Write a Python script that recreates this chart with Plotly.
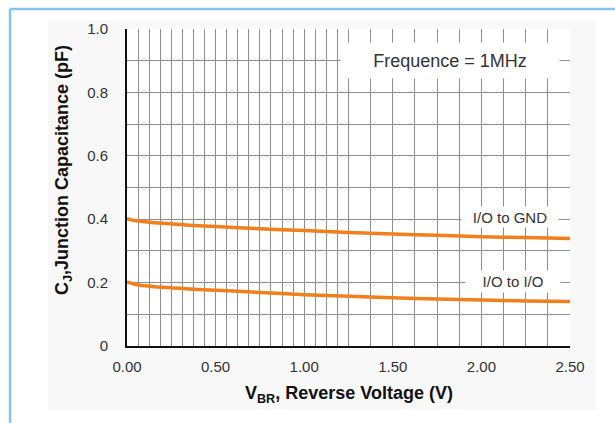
import plotly.graph_objects as go

# Reverse voltage (V) sample points
voltage = [0.0, 0.05, 0.1, 0.2, 0.35, 0.5, 0.75, 1.0, 1.25, 1.5, 1.75, 2.0, 2.25, 2.5]
# Junction capacitance (pF)
cap_io_gnd = [0.402, 0.395, 0.392, 0.387, 0.381, 0.377, 0.370, 0.364, 0.358, 0.353, 0.349, 0.345, 0.342, 0.339]
cap_io_io = [0.202, 0.194, 0.190, 0.185, 0.180, 0.176, 0.169, 0.162, 0.157, 0.152, 0.148, 0.145, 0.142, 0.140]

x_tick_vals = [0.0, 0.5, 1.0, 1.5, 2.0, 2.5]
x_tick_text = ["0.00", "0.50", "1.00", "1.50", "2.00", "2.50"]
y_tick_vals = [0.0, 0.2, 0.4, 0.6, 0.8, 1.0]
y_tick_text = ["0", "0.2", "0.4", "0.6", "0.8", "1.0"]

# grid: fine steps of 1/16 V up to 1.25 V, then 1/8 V steps
x_grid_fine = [i / 16 for i in range(0, 21)]
x_grid_coarse = [1.25 + i / 8 for i in range(1, 11)]
x_grid = x_grid_fine + x_grid_coarse
y_grid = [i / 10 for i in range(0, 11)]

W, H = 615, 423
L, R, T, B = 127, 45, 29, 77
pw, ph = W - L - R, H - T - B


def px(xp):
    return (xp - L) / pw


def py(yp):
    return (H - B - yp) / ph


ORANGE = "#F07F1C"
GRID = "#8f8f8f"
FONT = "Arial, Liberation Sans, Helvetica, sans-serif"

fig = go.Figure()
for name, ys in [("I/O to GND", cap_io_gnd), ("I/O to I/O", cap_io_io)]:
    fig.add_trace(go.Scatter(
        x=voltage, y=ys, mode="lines", name=name,
        line=dict(color=ORANGE, width=3.5, shape="spline", smoothing=0.8),
        showlegend=False, hoverinfo="x+y",
    ))

fig.update_layout(
    width=W, height=H,
    margin=dict(l=L, r=R, t=T, b=B, pad=0),
    paper_bgcolor="white",
    plot_bgcolor="white",
    font=dict(family=FONT, size=15, color="#333333"),
    xaxis=dict(
        range=[0, 2.5], tickmode="array", tickvals=x_tick_vals, ticktext=x_tick_text,
        showgrid=True, gridcolor=GRID, gridwidth=1,
        minor=dict(tickmode="array", tickvals=x_grid, showgrid=True, gridcolor=GRID, gridwidth=1),
        showline=True, linecolor="#111111", linewidth=2,
        zeroline=False, ticks="", ticklabelstandoff=6,
        tickfont=dict(size=15, color="#333333"),
    ),
    yaxis=dict(
        range=[0, 1.0], tickmode="array", tickvals=y_tick_vals, ticktext=y_tick_text,
        showgrid=True, gridcolor=GRID, gridwidth=1,
        minor=dict(tickmode="array", tickvals=y_grid, showgrid=True, gridcolor=GRID, gridwidth=1),
        showline=True, linecolor="#111111", linewidth=2,
        zeroline=False, ticks="", ticklabelstandoff=14,
        tickfont=dict(size=15, color="#333333"),
    ),
)

# light panel behind the chart, plot area on top of it
fig.add_shape(type="rect", xref="paper", yref="paper",
              x0=px(48), x1=px(596), y0=py(410), y1=py(20),
              fillcolor="#F8F8F8", line=dict(width=0), layer="below")
fig.add_shape(type="rect", xref="paper", yref="paper",
              x0=0, x1=1, y0=0, y1=1,
              fillcolor="white", line=dict(width=0), layer="below")
# blue frame on the left and top edges
fig.add_shape(type="line", xref="paper", yref="paper",
              x0=px(10), x1=px(10), y0=py(9), y1=py(423),
              line=dict(color="#86C4F2", width=2.5), layer="below")
fig.add_shape(type="line", xref="paper", yref="paper",
              x0=px(10), x1=px(615), y0=py(9), y1=py(9),
              line=dict(color="#86C4F2", width=2.5), layer="below")

# labels with white boxes that mask the grid
fig.add_annotation(x=1.82, y=0.90, xref="x", yref="y", text="Frequence = 1MHz",
                   showarrow=False, width=218, height=35, bgcolor="white",
                   xanchor="center", yanchor="middle",
                   borderpad=0, font=dict(family=FONT, size=18, color="#333333"))
fig.add_annotation(x=2.16, y=0.408, xref="x", yref="y", text="I/O to GND",
                   showarrow=False, width=96, height=20, bgcolor="white",
                   xanchor="center", yanchor="middle",
                   borderpad=0, font=dict(family=FONT, size=15, color="#333333"))
fig.add_annotation(x=2.18, y=0.204, xref="x", yref="y", text="I/O to I/O",
                   showarrow=False, width=94, height=21, bgcolor="white",
                   xanchor="center", yanchor="middle",
                   borderpad=0, font=dict(family=FONT, size=15, color="#333333"))

# axis titles
fig.add_annotation(x=px(348.5), y=py(394), xref="paper", yref="paper",
                   text="<b>V<sub>BR</sub>, Reverse Voltage (V)</b>",
                   xanchor="center", yanchor="middle",
                   showarrow=False, font=dict(family=FONT, size=18, color="#111111"))
fig.add_annotation(x=px(63), y=py(170), xref="paper", yref="paper",
                   text="<b>C<sub>J</sub>,Junction Capacitance (pF)</b>", textangle=-90,
                   xanchor="center", yanchor="middle",
                   showarrow=False, font=dict(family=FONT, size=18, color="#111111"))

fig.write_html("out.html")
